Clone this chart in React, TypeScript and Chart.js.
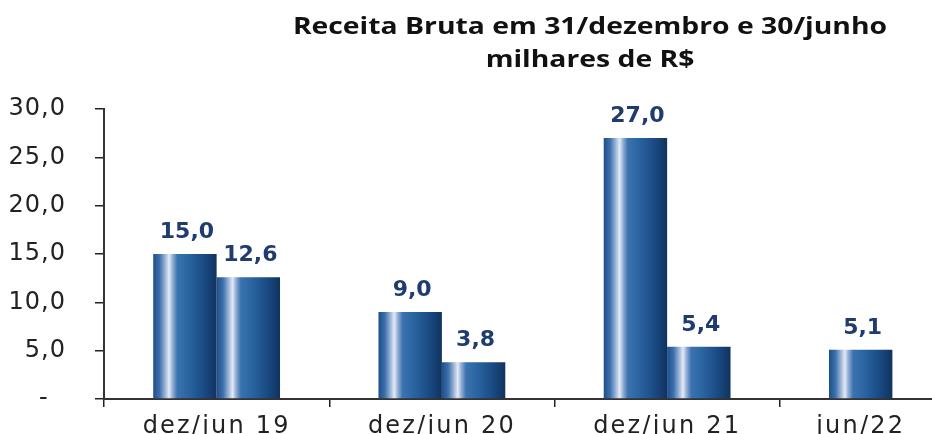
import React, { useEffect, useRef } from "react";
import { Chart, registerables } from "chart.js";

Chart.register(...registerables);

const categories = ["dez/jun 19", "dez/jun 20", "dez/jun 21", "jun/22"];
const serieA = [15.0, 9.0, 27.0, 5.1];
const serieB = [12.6, 3.8, 5.4, null];
const yTickLabels = ["-", "5,0", "10,0", "15,0", "20,0", "25,0", "30,0"];
const titleLines = ["Receita Bruta em 31/dezembro e 30/junho", "milhares de R$"];

const fmt = (v: number) => v.toFixed(1).replace(".", ",");

const gradientStops: [number, string][] = [
  [0, "#1e4f8b"],
  [0.1, "#3c6fab"],
  [0.19, "#9db6d9"],
  [0.25, "#e3eaf5"],
  [0.31, "#8eaad2"],
  [0.38, "#3b73b0"],
  [0.55, "#2a65a2"],
  [0.8, "#1a4a83"],
  [1, "#10335f"],
];

const patchLabelSpacing = (scale: any, spacing: string) => {
  if (!scale || scale.__spacingPatched) return;
  const orig = scale.drawLabels.bind(scale);
  scale.drawLabels = (area: any) => {
    const c = scale.ctx as any;
    const prev = c.letterSpacing;
    c.letterSpacing = spacing;
    orig(area);
    c.letterSpacing = prev || "0px";
  };
  scale.__spacingPatched = true;
};

const barStylePlugin = {
  id: "barStyle",
  beforeDatasetsDraw(chart: any) {
    const ctx = chart.ctx;
    chart.data.datasets.forEach((_ds: any, i: number) => {
      const meta = chart.getDatasetMeta(i);
      meta.data.forEach((el: any) => {
        const { x, width } = el.getProps(["x", "width"], true);
        if (!isFinite(x) || !isFinite(width)) return;
        const g = ctx.createLinearGradient(x - width / 2, 0, x + width / 2, 0);
        gradientStops.forEach(([o, c]) => g.addColorStop(o, c));
        try {
          el.options.backgroundColor = g;
        } catch (e) {}
      });
    });
  },
  afterDatasetsDraw(chart: any) {
    const ctx = chart.ctx;
    ctx.save();
    (ctx as any).letterSpacing = "0px";
    ctx.font = "bold 22px 'DejaVu Sans'";
    ctx.fillStyle = "#1f3c6e";
    ctx.textAlign = "center";
    ctx.textBaseline = "alphabetic";
    chart.data.datasets.forEach((ds: any, i: number) => {
      const meta = chart.getDatasetMeta(i);
      meta.data.forEach((el: any, j: number) => {
        const v = ds.data[j];
        if (v === null || v === undefined) return;
        ctx.fillText(fmt(v), el.x + 2, el.y - 16);
      });
    });
    ctx.restore();
  },
  beforeDraw(chart: any) {
    patchLabelSpacing(chart.scales.x, "2.2px");
    patchLabelSpacing(chart.scales.y, "1px");
    const xs = chart.scales.x;
    if (!xs || !xs.getLabelItems) return;
    const items = xs.getLabelItems();
    const last = items[items.length - 1];
    const bar = chart.getDatasetMeta(0).data[categories.length - 1];
    if (last && bar && last.options && last.options.translation) {
      last.options.translation[0] = bar.x;
    }
  },
};

export default function App() {
  const ref = useRef<HTMLCanvasElement | null>(null);
  useEffect(() => {
    if (!ref.current) return;
    Chart.defaults.font.family = "'DejaVu Sans'";
    const chart = new Chart(ref.current, {
      type: "bar",
      data: {
        labels: categories,
        datasets: [
          { data: serieA, backgroundColor: () => "#2a5f9e", borderWidth: 0 },
          { data: serieB as any, backgroundColor: () => "#2a5f9e", borderWidth: 0 },
        ],
      },
      options: {
        responsive: false,
        animation: false,
        devicePixelRatio: 1,
        categoryPercentage: 0.563,
        barPercentage: 1,
        layout: { padding: { top: 109, right: 5, left: 0, bottom: 0 } },
        plugins: {
          legend: { display: false },
          title: { display: false },
          tooltip: { enabled: false },
        },
        scales: {
          x: {
            type: "category",
            offset: true,
            grid: {
              display: true,
              drawOnChartArea: false,
              drawTicks: true,
              tickLength: 8,
              offset: true,
              color: "#222",
              lineWidth: 1.5,
            },
            border: { display: true, color: "#333", width: 2 },
            ticks: {
              color: "#222",
              font: { size: 24, family: "'DejaVu Sans'" },
              padding: 5,
              maxRotation: 0,
              autoSkip: false,
            },
            afterFit: (s: any) => {
              s.height = 49;
            },
          },
          y: {
            type: "linear",
            min: 0,
            max: 30,
            grid: {
              display: true,
              drawOnChartArea: false,
              drawTicks: true,
              tickLength: 9,
              color: "#222",
              lineWidth: 1.5,
            },
            border: { display: true, color: "#333", width: 2 },
            ticks: {
              stepSize: 5,
              color: "#222",
              padding: 29,
              font: { size: 24, family: "'DejaVu Sans'" },
              callback: (_v: any, i: number) => {
                const l = yTickLabels[i];
                return l === "-" ? "-  " : l;
              },
            },
            afterFit: (s: any) => {
              s.width = 104;
            },
          },
        },
      },
      plugins: [barStylePlugin],
    });
    return () => chart.destroy();
  }, []);

  return (
    <div
      style={{
        position: "fixed",
        left: 0,
        top: 0,
        width: 932,
        height: 434,
        overflow: "hidden",
        background: "#fff",
      }}
    >
      <canvas ref={ref} width={1010} height={448} style={{ position: "absolute", left: 0, top: 0 }} />
      <div
        style={{
          position: "absolute",
          left: 290,
          width: 600,
          top: 8,
          textAlign: "center",
          fontFamily: "'Open Sans'",
          fontWeight: 700,
          fontSize: 24,
          lineHeight: "33px",
          color: "#111",
          transform: "scaleX(1.18)",
          transformOrigin: "50% 50%",
        }}
      >
        {titleLines.map((t) => (
          <div key={t} style={{ whiteSpace: "nowrap" }}>
            {t}
          </div>
        ))}
      </div>
    </div>
  );
}
